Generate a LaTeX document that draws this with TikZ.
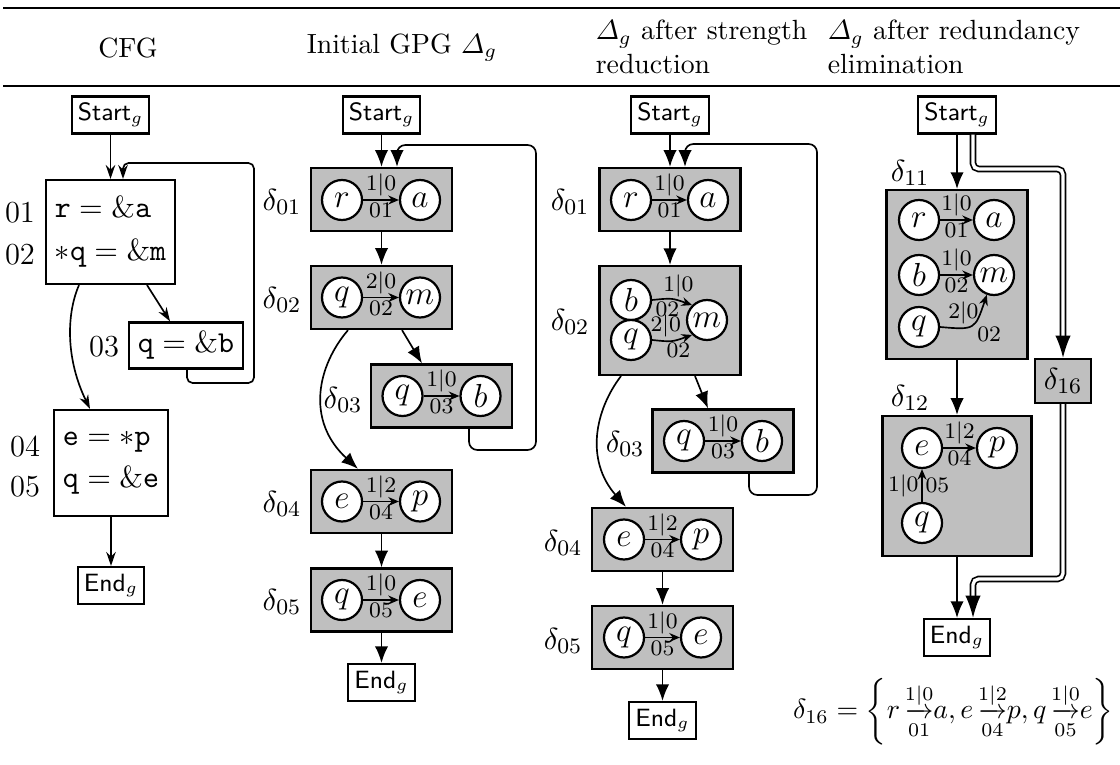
\documentclass[tikz,border=0pt]{standalone}
\usepackage{amsmath}
\usetikzlibrary{arrows.meta, calc, positioning}
\newcommand{\garrow}[2]{{\mathop{\hbox to 8pt{\rightarrowfill}}\limits^{#1}_{#2}}}

\begin{document}
\begin{tikzpicture}[x=0.36pt, y=-0.36pt,
    term/.style={draw, thick, font=\small\sffamily, inner sep=2.2pt, minimum height=13.3pt},
    stmt/.style={draw, thick, align=left, inner sep=3.3pt, font=\fontsize{10.8}{13}\selectfont},
    gpb/.style={draw, thick, fill=black!25, inner sep=0pt, minimum width=50.8pt, minimum height=22.7pt},
    vtx/.style={circle, draw, thick, fill=white, inner sep=0pt, minimum size=14.4pt, font=\large},
    dlab/.style={font=\fontsize{11}{13}\selectfont},
    elab/.style={font=\footnotesize, inner sep=1pt},
    flow/.style={semithick, -{Latex[length=6pt, width=4.8pt]}},
    cflow/.style={semithick, -{Stealth[length=5pt, width=3.4pt]}},
    ptr/.style={semithick, -{Stealth[length=3.8pt, width=3.2pt]}},
    dflow/.style={semithick, double, double distance=1.2pt, rounded corners=2pt, -{Latex[length=8pt, width=5.5pt]}}]
    \useasboundingbox (0,0) rectangle (1120,764);

    % table head
    \draw[line width=0.8pt] (3,8) -- (1120,8);
    \draw[line width=0.8pt] (3,86) -- (1120,86);
    \node (hcfg) at (128,48) {CFG};
    \node (hini) at (402,48) {Initial GPG $\varDelta_g$};
    \node[anchor=west, align=left] (hstr) at (586,47) {$\varDelta_g$ after strength\\reduction};
    \node[anchor=west, align=left] (hred) at (818,47) {$\varDelta_g$ after redundancy\\elimination};

    % CFG
    \node[term] (s1) at (110.5,115) {Start$_g$};
    \node[stmt, minimum width=45pt, minimum height=37.4pt] (b1) at (110.5,232)
      {$\mathtt{r} = \&\mathtt{a}$\\[2.5pt]$*\mathtt{q} = \&\mathtt{m}$};
    \node[stmt, minimum width=39.6pt, minimum height=16.2pt] (b3) at (186,345.5) {$\mathtt{q} = \&\mathtt{b}$};
    \node[stmt, minimum width=39.6pt, minimum height=38.2pt] (b4) at (111,463)
      {$\mathtt{e} = *\mathtt{p}$\\[2pt]$\mathtt{q} = \&\mathtt{e}$};
    \node[term] (e1) at (111,585.5) {End$_g$};
    \node[dlab] (n01) at (20,213) {01};
    \node[dlab] (n02) at (20,255) {02};
    \node[dlab] (n03) at (104,347) {03};
    \node[dlab] (n04) at (25,447) {04};
    \node[dlab] (n05) at (25,487) {05};
    \draw[cflow] (s1.south) -- (b1.north);
    \draw[cflow] ($(b1.south)+(36.5,0)$) -- ($(b3.north)+(-16,0)$);
    \draw[cflow] ($(b1.south)+(-31.5,0)$) .. controls (66,315) and (66,360) .. ($(b4.north)+(-21,0)$);
    \draw[cflow, rounded corners=2pt] ($(b3.south)+(1,0)$) |- (254,383) -- (254,163) -| ($(b1.north)+(12.5,0)$);
    \draw[cflow] (b4.south) -- (e1.north);

    % initial GPG
    \node[term] (s2) at (381.5,115) {Start$_g$};
    \node[gpb] (g01) at (381.5,199.5) {};
    \node[gpb] (g02) at (381.5,297.5) {};
    \node[gpb] (g03) at (441.5,396) {};
    \node[gpb] (g04) at (381.5,501.5) {};
    \node[gpb] (g05) at (381.5,600) {};
    \node[term] (e2) at (381.5,682.5) {End$_g$};
    \node[dlab] (l01) at (282,202) {$\delta_{01}$};
    \node[dlab] (l02) at (282,300) {$\delta_{02}$};
    \node[dlab] (l03) at (343,400) {$\delta_{03}$};
    \node[dlab] (l04) at (282,504) {$\delta_{04}$};
    \node[dlab] (l05) at (282,602) {$\delta_{05}$};
    \node[vtx] (r01) at (342,200) {$r$};
    \node[vtx] (a01) at (420,200) {$a$};
    \node[vtx] (q02) at (342,297.5) {$q$};
    \node[vtx] (m02) at (420,297.5) {$m$};
    \node[vtx] (q03) at (402.5,396) {$q$};
    \node[vtx] (b03) at (480.5,396) {$b$};
    \node[vtx] (e04) at (342,501.5) {$e$};
    \node[vtx] (p04) at (420,501.5) {$p$};
    \node[vtx] (q05) at (342,600) {$q$};
    \node[vtx] (e05) at (420,600) {$e$};
    \draw[ptr] (r01) -- (a01) node[midway, above, elab] {$1|0$} node[midway, below, elab] {$01$};
    \draw[ptr] (q02) -- (m02) node[midway, above, elab] {$2|0$} node[midway, below, elab] {$02$};
    \draw[ptr] (q03) -- (b03) node[midway, above, elab] {$1|0$} node[midway, below, elab] {$03$};
    \draw[ptr] (e04) -- (p04) node[midway, above, elab] {$1|2$} node[midway, below, elab] {$04$};
    \draw[ptr] (q05) -- (e05) node[midway, above, elab] {$1|0$} node[midway, below, elab] {$05$};
    \draw[flow] (s2.south) -- (g01.north);
    \draw[flow, rounded corners=3pt] ($(g03.south)+(27.5,0)$) |- (536,450) -- (536,145) -| ($(g01.north)+(15.5,0)$);
    \draw[flow] (g01.south) -- (g02.north);
    \draw[flow] ($(g02.south)+(20.5,0)$) -- ($(g03.north)+(-19.5,0)$);
    \draw[flow] ($(g02.south)+(-33.5,0)$) .. controls (318,365) and (305,420) .. ($(g04.north)+(-23.5,0)$);
    \draw[flow] (g04.south) -- (g05.north);
    \draw[flow] (g05.south) -- (e2.north);

    % after strength reduction
    \node[term] (s3) at (670,115) {Start$_g$};
    \node[gpb] (h01) at (670,199.5) {};
    \node[gpb, minimum height=39.2pt] (h02) at (670,320.5) {};
    \node[gpb] (h03) at (723,441) {};
    \node[gpb] (h04) at (662.5,539.5) {};
    \node[gpb] (h05) at (662.5,637.5) {};
    \node[term] (e3) at (662.5,720.5) {End$_g$};
    \node[dlab] (j01) at (570,202) {$\delta_{01}$};
    \node[dlab] (j02) at (570,322) {$\delta_{02}$};
    \node[dlab] (j03) at (625,444) {$\delta_{03}$};
    \node[dlab] (j04) at (563,543) {$\delta_{04}$};
    \node[dlab] (j05) at (563,641) {$\delta_{05}$};
    \node[vtx] (hr01) at (631,200) {$r$};
    \node[vtx] (ha01) at (708,200) {$a$};
    \node[vtx] (hb02) at (631,300) {$b$};
    \node[vtx] (hq02) at (631,340) {$q$};
    \node[vtx] (hm02) at (707,320) {$m$};
    \node[vtx] (hq03) at (684,441) {$q$};
    \node[vtx] (hb03) at (762,441) {$b$};
    \node[vtx] (he04) at (624,539.5) {$e$};
    \node[vtx] (hp04) at (701,539.5) {$p$};
    \node[vtx] (hq05) at (624,637.5) {$q$};
    \node[vtx] (he05) at (701,637.5) {$e$};
    \draw[ptr] (hr01) -- (ha01) node[midway, above, elab] {$1|0$} node[midway, below, elab] {$01$};
    \draw[ptr] (hb02.east) .. controls (672,298) .. (hm02.135) node[pos=.7, above, elab] {$1|0$} node[pos=.35, below, elab] {$02$};
    \draw[ptr] (hq02.east) .. controls (672,342) .. (hm02.225) node[pos=.3, above, elab] {$2|0$} node[pos=.7, below, elab] {$02$};
    \draw[ptr] (hq03) -- (hb03) node[midway, above, elab] {$1|0$} node[midway, below, elab] {$03$};
    \draw[ptr] (he04) -- (hp04) node[midway, above, elab] {$1|2$} node[midway, below, elab] {$04$};
    \draw[ptr] (hq05) -- (he05) node[midway, above, elab] {$1|0$} node[midway, below, elab] {$05$};
    \draw[flow] (s3.south) -- (h01.north);
    \draw[flow, rounded corners=3pt] ($(h03.south)+(26,0)$) |- (817,495) -- (817,144) -| ($(h01.north)+(15,0)$);
    \draw[flow] (h01.south) -- (h02.north);
    \draw[flow] ($(h02.south)+(25,0)$) -- ($(h03.north)+(-15,0)$);
    \draw[flow] ($(h02.south)+(-49,0)$) .. controls (595,410) and (585,460) .. ($(h04.north)+(-36.5,0)$);
    \draw[flow] (h04.south) -- (h05.north);
    \draw[flow] (h05.south) -- (e3.north);

    % after redundancy elimination
    \node[term] (s4) at (957,115) {Start$_g$};
    \node[gpb, minimum height=60.8pt] (k11) at (957,274.5) {};
    \node[gpb, minimum width=53.6pt, minimum height=50.4pt] (k12) at (957,486) {};
    \node[gpb, minimum width=20.2pt, minimum height=15.8pt, font=\fontsize{11}{13}\selectfont] (k16) at (1063,381) {$\delta_{16}$};
    \node[term] (e4) at (957,637.5) {End$_g$};
    \node[dlab] (j11) at (910,173) {$\delta_{11}$};
    \node[dlab] (j12) at (910,398) {$\delta_{12}$};
    \node[vtx] (kr) at (919,220) {$r$};
    \node[vtx] (ka) at (994,220) {$a$};
    \node[vtx] (kb) at (919,275) {$b$};
    \node[vtx] (km) at (994,275) {$m$};
    \node[vtx] (kq) at (919,327) {$q$};
    \node[vtx] (ke) at (922,448) {$e$};
    \node[vtx] (kp) at (997,448) {$p$};
    \node[vtx] (kq2) at (922,523) {$q$};
    \draw[ptr] (kr) -- (ka) node[midway, above, elab] {$1|0$} node[midway, below, elab] {$01$};
    \draw[ptr] (kb) -- (km) node[midway, above, elab] {$1|0$} node[midway, below, elab] {$02$};
    \draw[ptr] (kq.east) .. controls (975,330) .. (km.250) node[pos=.3, above, elab] {$2|0$} node[pos=.55, below right, elab] {$02$};
    \draw[ptr] (ke) -- (kp) node[midway, above, elab] {$1|2$} node[midway, below, elab] {$04$};
    \draw[ptr] (kq2) -- (ke) node[midway, left, elab] {$1|0$} node[midway, right, elab] {$05$};
    \draw[flow] (s4.south) -- (k11.north);
    \draw[flow] (k11.south) -- (k12.north);
    \draw[flow] (k12.south) -- (e4.north);
    \draw[dflow] ($(s4.south)+(16,0)$) -- (973,169) -| (k16.north);
    \draw[dflow] (k16.south) |- (973,579) -- ($(e4.north)+(16,0)$);
    \node[anchor=east, inner sep=1pt, font=\fontsize{9.6}{11}\selectfont] (f16) at (1117,712)
      {$\delta_{16} = \left\{ r\,\garrow{1|0}{01}a, e\,\garrow{1|2}{04}p, q\,\garrow{1|0}{05}e \right\}$};
\end{tikzpicture}
\end{document}
